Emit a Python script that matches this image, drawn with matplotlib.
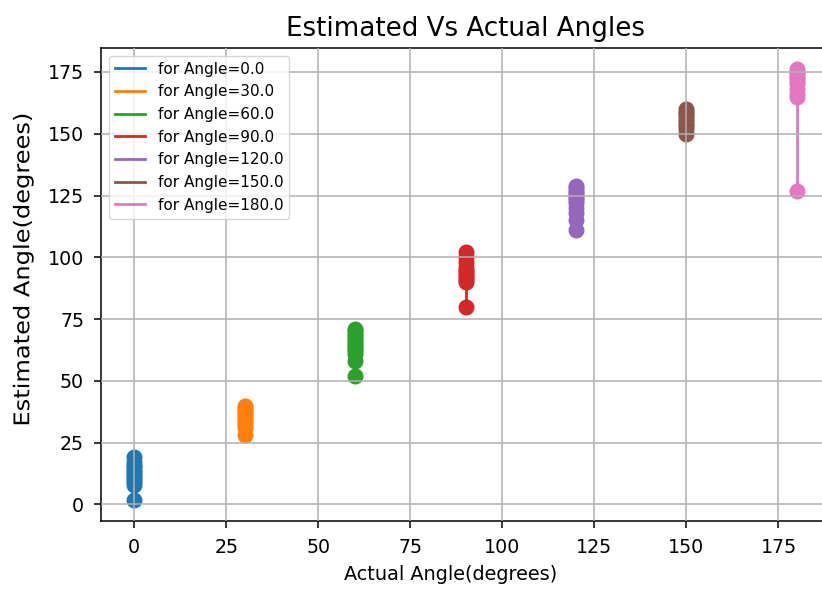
import matplotlib
matplotlib.use("Agg")
import matplotlib.pyplot as plt
from matplotlib.patheffects import AbstractPathEffect
from matplotlib.transforms import Affine2D

angles = [0.0, 30.0, 60.0, 90.0, 120.0, 150.0, 180.0]
colors = ["#1f77b4", "#ff7f0e", "#2ca02c", "#d62728", "#9467bd", "#8c564b", "#e377c2"]
est_0 = [19, 17, 16, 15, 14, 13, 12, 11, 10, 9, 8, 2]
est_30 = [40, 39, 38, 37, 36, 35, 34, 33, 32, 31, 28]
est_60 = [71, 70, 69, 68, 67, 66, 65, 64, 63, 62, 61, 58, 52]
est_90 = [102, 100, 98, 96, 95, 94, 93, 92, 91, 90, 80]
est_120 = [129, 128, 127, 126, 125, 124, 123, 122, 120, 118, 115, 111]
est_150 = [160, 159, 158, 157, 156, 155, 154, 153, 152, 150]
est_180 = [176, 175, 174, 173, 172, 171, 170, 168, 166, 165, 127]
estimates = [est_0, est_30, est_60, est_90, est_120, est_150, est_180]
ticks = [0, 25, 50, 75, 100, 125, 150, 175]


class StretchY(AbstractPathEffect):
    """Stretch a text's glyphs vertically about the text's centre."""

    def __init__(self, text, s):
        super().__init__()
        self.text = text
        self.s = s

    def draw_path(self, renderer, gc, tpath, affine, rgbFace=None):
        bb = self.text.get_window_extent()
        cy = 0.5 * (bb.y0 + bb.y1)
        aff = affine + Affine2D().translate(0, -cy).scale(1, self.s).translate(0, cy)
        renderer.draw_path(gc, tpath, aff, rgbFace)


plt.rcParams["font.family"] = ["DejaVu Sans"]
plt.rcParams["font.size"] = 13.7

fig = plt.figure(figsize=(8.22, 5.9), dpi=100)
ax = fig.add_axes([101 / 822, 69 / 590, 729 / 822, 473 / 590])

for a, est, c in zip(angles, estimates, colors):
    xs = [a] * len(est)
    ax.plot(xs, est, color=c, lw=2.0, label=f"for Angle={a}")
    ax.plot(xs, est, "o", color=c, ms=10.5)

ax.set_xlim(-9, 189)
ax.set_ylim(-6.7, 184.7)
ax.set_xticks(ticks)
ax.set_yticks(ticks)
ax.grid(True, color="#b0b0b0", lw=1.1)
ax.set_axisbelow(False)
ax.tick_params(length=5, width=1.1, pad=7.2)
for s in ax.spines.values():
    s.set_linewidth(1.1)

ax.set_title("Estimated Vs Actual Angles", fontsize=18.8, pad=9)
ax.set_xlabel("Actual Angle(degrees)", fontsize=13.9)
yl = ax.set_ylabel("Estimated Angle(degrees)", fontsize=15.5)
yl.set_path_effects([StretchY(yl, 1.12)])
ax.xaxis.set_label_coords(0.479, -0.093)
ax.yaxis.set_label_coords(-0.093, 0.531)
ax.legend(loc="upper left", fontsize=11)

fig.savefig("out.png", dpi=100)
